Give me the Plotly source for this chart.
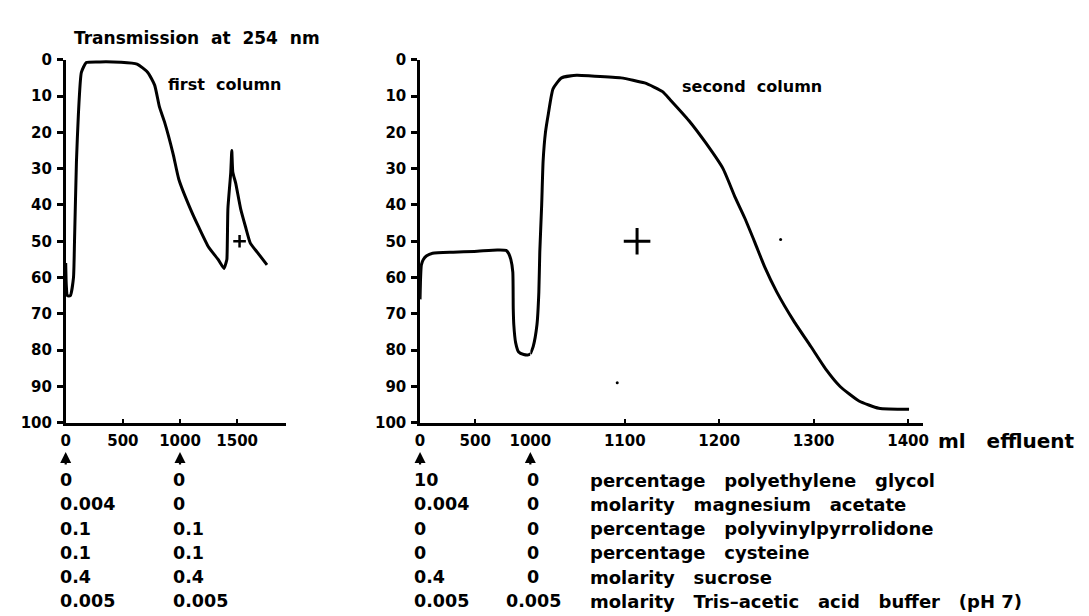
import plotly.graph_objects as go

W, H = 1089, 616

# ---- data (ml effluent, % transmission at 254 nm) ----
first_ml = [0, 5, 15, 40, 68, 77, 94, 111, 137, 180, 300, 479, 624, 718, 778, 820, 863,
            940, 990, 1103, 1162, 1248, 1333, 1385, 1402, 1410, 1419, 1444, 1453, 1462,
            1487, 1530, 1573, 1615, 1675, 1761]
first_T = [56, 62, 65, 65, 60, 50, 28, 15, 3.5, 0.8, 0.6, 0.7, 1.2, 3.5, 7, 13, 17,
           26, 33, 42, 46, 51.5, 55, 57.5, 56, 55, 41, 31, 25, 31,
           34, 41, 46, 50.5, 53, 56.5]

second_a_ml = [0, 5, 12, 30, 60, 114, 300, 491, 700, 780, 800, 823, 841, 845, 850, 867,
               894, 940, 982, 1000]
second_a_T = [66, 60, 56.5, 55, 54, 53.3, 53, 52.8, 52.4, 52.5, 53.2, 55, 58.5, 68.5, 73,
              78, 80.5, 81.2, 81.3, 81]

second_b_ml = [1000, 1003, 1007, 1009, 1010, 1012, 1013.5, 1016, 1019, 1024, 1033, 1049,
               1065, 1096, 1121, 1140, 1148, 1168, 1186, 1204, 1217, 1227, 1238, 1248,
               1261, 1279, 1297, 1313, 1328, 1348, 1369, 1401]
second_b_T = [81, 79, 73, 64, 53, 40, 28, 20, 15, 8, 5, 4.3, 4.5, 5, 6.4, 8.8, 11, 16.8,
              23, 30, 38, 43.6, 50.5, 57, 64, 72, 79, 85.3, 90, 94, 96, 96.3]

plus_first = (1521, 50)
plus_second = (1113, 50)
specks_ml = [1092, 1265]
specks_T = [89, 49.5]

y_ticks = [0, 10, 20, 30, 40, 50, 60, 70, 80, 90, 100]
first_x_ticks = [0, 500, 1000, 1500]
second_a_ticks = [0, 500, 1000]
second_b_ticks = [1100, 1200, 1300, 1400]

first_col_0 = ["0", "0.004", "0.1", "0.1", "0.4", "0.005"]
first_col_1000 = ["0", "0", "0.1", "0.1", "0.4", "0.005"]
second_col_0 = ["10", "0.004", "0", "0", "0.4", "0.005"]
second_col_1000 = ["0", "0", "0", "0", "0", "0.005"]
row_labels = ["percentage   polyethylene   glycol",
              "molarity   magnesium   acetate",
              "percentage   polyvinylpyrrolidone",
              "percentage   cysteine",
              "molarity   sucrose",
              "molarity   Tris\u2013acetic   acid   buffer   (pH 7)"]

# ---- layout geometry (pixels) ----
def fx(px):
    return px / W

def fy(py):
    return 1 - py / H

Y_TOP, Y_BOT = 44, 418
row_y = [477, 502, 527, 552, 577, 602]

fig = go.Figure()
line = dict(color="black", width=3, shape="spline", smoothing=0.5)
fig.add_trace(go.Scatter(x=first_ml, y=first_T, xaxis="x", yaxis="y", mode="lines", line=line))
fig.add_trace(go.Scatter(x=second_a_ml, y=second_a_T, xaxis="x2", yaxis="y2", mode="lines", line=line))
fig.add_trace(go.Scatter(x=second_b_ml, y=second_b_T, xaxis="x3", yaxis="y2", mode="lines", line=line))
fig.add_trace(go.Scatter(x=[plus_first[0]], y=[plus_first[1]], xaxis="x", yaxis="y", mode="markers",
                         marker=dict(symbol="cross-thin", size=9, line=dict(color="black", width=2.5))))
fig.add_trace(go.Scatter(x=[plus_second[0]], y=[plus_second[1]], xaxis="x3", yaxis="y2", mode="markers",
                         marker=dict(symbol="cross-thin", size=19, line=dict(color="black", width=3))))
fig.add_trace(go.Scatter(x=specks_ml, y=specks_T, xaxis="x3", yaxis="y2", mode="markers",
                         marker=dict(size=3, color="black")))

tickfont = dict(family="DejaVu Sans", size=15, color="black", weight="bold")
common_x = dict(showline=True, linewidth=2.5, linecolor="black", ticks="inside", ticklen=4,
                tickwidth=2, tickcolor="black", showgrid=False, zeroline=False,
                tickfont=tickfont, tickmode="array", ticklabelstandoff=2)
common_y = dict(showline=True, linewidth=2.5, linecolor="black", ticks="outside", ticklen=6,
                tickwidth=2.5, tickcolor="black", showgrid=False, zeroline=False,
                tickfont=tickfont, tickmode="array", tickvals=y_ticks, range=[100, 0],
                domain=[fy(Y_BOT), fy(Y_TOP)], ticklabelstandoff=2)

fig.update_layout(
    width=W, height=H, margin=dict(l=0, r=0, t=0, b=0), autosize=False,
    paper_bgcolor="white", plot_bgcolor="white", showlegend=False,
    font=dict(family="DejaVu Sans", size=15, color="black", weight="bold"),
    xaxis=dict(common_x, domain=[fx(54), fx(280)], range=[0, 1930], anchor="y",
               tickvals=first_x_ticks),
    yaxis=dict(common_y, anchor="x"),
    xaxis2=dict(common_x, domain=[fx(417), fx(530)], range=[0, 1000.01], anchor="y2",
                tickvals=second_a_ticks),
    xaxis3=dict(common_x, domain=[fx(530), fx(932)], range=[1000, 1000 + 402 / 0.9675],
                anchor="y2", tickvals=second_b_ticks),
    yaxis2=dict(common_y, anchor="x2"),
)

ann = []
def text(x, y, s, xref="paper", xshift=0, size=15, anchor="left"):
    ann.append(dict(x=x, y=fy(y), xref=xref, yref="paper", text=s, showarrow=False,
                    xanchor=anchor, yanchor="middle", xshift=xshift,
                    font=dict(size=size)))

text(fx(60), 22, "Transmission  at  254  nm", size=17)
text(fx(157), 70, "first  column", size=16)
text(fx(683), 72, "second  column", size=16)
text(fx(946), 437, "ml   effluent", size=20)

for xref, xv in [("x", 0), ("x", 1000), ("x2", 0), ("x2", 1000)]:
    ann.append(dict(x=xv, y=fy(448), xref=xref, yref="paper", text="", showarrow=True,
                    ax=0, ay=14, arrowhead=2, arrowsize=1, arrowwidth=2.2, arrowcolor="black"))

for i, yv in enumerate(row_y):
    text(fx(46), yv, first_col_0[i], size=17.5)
    text(fx(162), yv, first_col_1000[i], size=17.5)
    text(fx(409), yv, second_col_0[i], size=17.5)
    text(fx(533), yv, second_col_1000[i], size=17.5, anchor="center")
    text(fx(589), yv, row_labels[i], size=18)

fig.update_layout(annotations=ann)
fig.write_html("out.html")
